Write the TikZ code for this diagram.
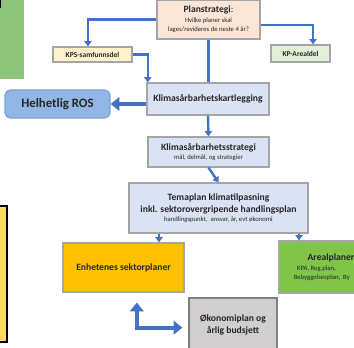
\documentclass[tikz,border=0pt]{standalone}
\usepackage{fontspec}
\setmainfont{Carlito}
\usetikzlibrary{arrows.meta}

\definecolor{linkblue}{RGB}{68,114,196}
\definecolor{framegray}{RGB}{165,165,165}
\definecolor{inkgray}{RGB}{38,38,38}
\definecolor{peach}{RGB}{251,229,214}
\definecolor{paleyellow}{RGB}{255,242,204}
\definecolor{palegreen}{RGB}{226,240,217}
\definecolor{paleblue}{RGB}{218,227,243}
\definecolor{rosblue}{RGB}{146,182,228}
\definecolor{gold}{RGB}{255,192,0}
\definecolor{grassgreen}{RGB}{128,196,72}
\definecolor{stonegray}{RGB}{208,206,206}

\newcommand{\smtxt}[1]{{\mdseries\fontsize{5}{6}\selectfont #1}}

\tikzset{every picture/.style={line width=0.75pt}}
\tikzset{
  planbox/.style={draw=framegray, line width=0.9pt, align=center, inner sep=0pt,
    text=inkgray, font=\fontsize{7.2}{9.4}\selectfont\bfseries},
  tagbox/.style={planbox, font=\fontsize{5.6}{7}\selectfont\bfseries},
  link/.style={draw=linkblue, line width=1.8pt, -{Triangle[width=5.5pt,length=4pt]}},
  bold link/.style={draw=linkblue, line width=3pt, -{Triangle[width=10pt,length=6.5pt]}}
}

\begin{document}
\begin{tikzpicture}[x=0.75pt,y=0.75pt,yscale=-1]
	\clip (0,0) rectangle (354,348);

	%Shape: Rectangle [left edge, green]
	\fill [color={rgb, 255:red, 141; green, 196; blue, 122 }] (0,0) rectangle (24,79);
	\fill [black] (0,0) rectangle (1.5,8);
	%Shape: Rectangle [left edge, yellow]
	\draw [fill={rgb, 255:red, 255; green, 217; blue, 102 }, line width=0.9pt] (-5,206) rectangle (7,342);

	% Text Node
	\node [planbox, fill=peach, minimum width=77.25pt, minimum height=29.25pt] (plan) at (208.5,19.5)
		{Planstrategi\mdseries:\\[-2pt] \smtxt{Hvilke planer skal}\\[-2.5pt] \smtxt{lages/revideres de neste 4 år?}};
	% Text Node
	\node [tagbox, fill=paleyellow, minimum width=59.25pt, minimum height=11.25pt] (kps) at (92.5,54.5) {KPS-samfunnsdel};
	% Text Node
	\node [tagbox, fill=palegreen, minimum width=44.25pt, minimum height=12.75pt] (kp) at (300.5,53.5) {KP-Arealdel};
	% Text Node
	\node [planbox, fill=paleblue, minimum width=91.5pt, minimum height=24pt] (kart) at (208,99) {Klimasårbarhetskartlegging};
	% Text Node
	\node [planbox, draw={rgb, 255:red, 120; green, 160; blue, 215 }, fill=rosblue, rounded corners=4pt,
		minimum width=78.75pt, minimum height=21pt, font=\fontsize{9.6}{11}\selectfont\bfseries] (ros) at (57.5,104) {Helhetlig ROS};
	% Text Node
	\node [planbox, fill=paleblue, minimum width=90.75pt, minimum height=22.5pt] (strat) at (208.5,152)
		{Klimasårbarhetsstrategi\\[-2.5pt] \smtxt{mål, delmål, og strategier}};
	% Text Node
	\node [planbox, fill=paleblue, minimum width=134.25pt, minimum height=37.5pt] (tema) at (218.5,208)
		{Temaplan klimatilpasning\\[-0.5pt] inkl. sektorovergripende handlingsplan\\[-2.5pt] \smtxt{handlingspunkt,\ \ ansvar, år, evt økonomi}};
	% Text Node
	\node [planbox, fill=gold, minimum width=90.75pt, minimum height=36.75pt] (enh) at (123.5,267.5) {Enhetenes sektorplaner};
	% Text Node (runs past the right edge, as in the source)
	\node [planbox, fill=grassgreen, minimum width=78pt, minimum height=39pt] (areal) at (331,267)
		{Arealplaner\\[-2pt] \smtxt{KPA, Reg.plan,\hphantom{ Detaljplan}}\\[-2.5pt] \smtxt{Bebyggelsesplan,\ \ By\hphantom{ggesak}}};
	% Text Node
	\node [planbox, draw={rgb, 255:red, 127; green, 127; blue, 127 }, fill=stonegray, minimum width=66pt, minimum height=40.5pt] (oko) at (233,325)
		{Økonomiplan og\\ årlig budsjett};

	%Straight Lines [plan to kps, kp]
	\draw [link] (plan.west) -| ([xshift=-3.4pt]kps.north);
	\draw [link] ([yshift=4pt]plan.east) -| ([xshift=9.4pt]kp.north);
	%Straight Lines [plan to kart]
	\draw [draw=linkblue, line width=1.8pt] (plan.south) -- (kart.north -| plan.south);
	%Straight Lines [kps to kart]
	\draw [link] (kps.east) -| ([xshift=1pt]kart.north west);
	%Straight Lines [kart to ros]
	\draw [bold link] (kart.west |- ros.east) -- (ros.east);
	%Straight Lines [chain down]
	\draw [link] (kart.south) -- (strat.north);
	\draw [link] (strat.south) -- (tema.north);
	\draw [link] ([xshift=-44.6pt]tema.south) -- ([xshift=-44.6pt]tema.south |- enh.north);
	\draw [link] ([xshift=60.4pt]tema.south) -- ([xshift=60.4pt]tema.south |- areal.north);
	%Straight Lines [enh to oko, both ways]
	\draw [bold link, {Triangle[width=10pt,length=6.5pt]}-{Triangle[width=10pt,length=6.5pt]}, shorten <=7.5pt, shorten >=4.5pt]
		([xshift=10pt]enh.south) |- ([yshift=2pt]oko.west);

\end{tikzpicture}
\end{document}
